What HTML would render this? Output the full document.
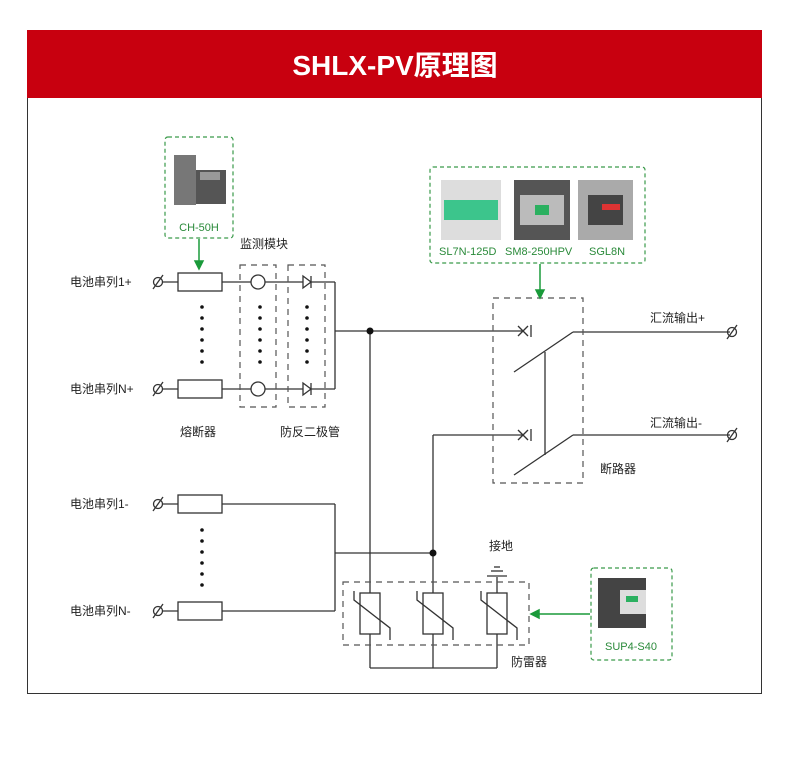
<!DOCTYPE html>
<html><head><meta charset="utf-8"><style>
body{margin:0;background:#fff;}
svg{display:block;font-family:"Liberation Sans","Noto Sans CJK SC",sans-serif;}
</style></head><body>
<svg width="790" height="768" viewBox="0 0 790 768">
<rect x="27.5" y="30.5" width="734" height="663" fill="#fff" stroke="#333" stroke-width="1"/>
<rect x="27" y="30" width="735" height="68" fill="#c8000f"/>
<text x="395" y="75" text-anchor="middle" fill="#fff" font-size="28" font-weight="bold">SHLX-PV原理图</text>

<g stroke="#333" stroke-width="1.3" fill="none">
<!-- row lines -->
<line x1="163" y1="282" x2="335" y2="282"/>
<line x1="163" y1="389" x2="335" y2="389"/>
<line x1="335" y1="282" x2="335" y2="389"/>
<line x1="335" y1="331" x2="523" y2="331"/>
<line x1="370" y1="331" x2="370" y2="593"/>
<rect x="178" y="273" width="44" height="18" fill="#fff"/>
<rect x="178" y="380" width="44" height="18" fill="#fff"/>
<circle cx="258" cy="282" r="7" fill="#fff"/>
<circle cx="258" cy="389" r="7" fill="#fff"/>
<path d="M303 276 L311 282 L303 288 Z" fill="#fff"/><line x1="311" y1="276" x2="311" y2="288"/>
<path d="M303 383 L311 389 L303 395 Z" fill="#fff"/><line x1="311" y1="383" x2="311" y2="395"/>
<!-- bottom rows -->
<line x1="163" y1="504" x2="335" y2="504"/>
<line x1="163" y1="611" x2="335" y2="611"/>
<line x1="335" y1="504" x2="335" y2="611"/>
<rect x="178" y="495" width="44" height="18" fill="#fff"/>
<rect x="178" y="602" width="44" height="18" fill="#fff"/>
<line x1="335" y1="553" x2="433" y2="553"/>
<line x1="433" y1="435" x2="433" y2="593"/>
<line x1="433" y1="435" x2="523" y2="435"/>
<!-- switch -->
<line x1="518" y1="326" x2="528" y2="336"/><line x1="528" y1="326" x2="518" y2="336"/><line x1="531" y1="325" x2="531" y2="337"/>
<line x1="518" y1="430" x2="528" y2="440"/><line x1="528" y1="430" x2="518" y2="440"/><line x1="531" y1="429" x2="531" y2="441"/>
<line x1="514" y1="372" x2="573" y2="332"/><line x1="573" y1="332" x2="730" y2="332"/>
<line x1="514" y1="475" x2="573" y2="435"/><line x1="573" y1="435" x2="730" y2="435"/>
<line x1="545" y1="352" x2="545" y2="455"/>
<!-- varistors -->
<line x1="370" y1="634" x2="370" y2="668"/><line x1="433" y1="634" x2="433" y2="668"/><line x1="497" y1="634" x2="497" y2="668"/>
<line x1="370" y1="668" x2="497" y2="668"/>
<line x1="497" y1="577" x2="497" y2="593"/>
<line x1="487" y1="576" x2="507" y2="576"/><line x1="491" y1="571" x2="503" y2="571"/><line x1="494" y1="567" x2="500" y2="567"/>
<g id="v"><rect x="360" y="593" width="20" height="41" fill="#fff"/><path d="M354 591 L354 600 L390 628 L390 640"/></g>
<use href="#v" x="63"/><use href="#v" x="127"/>
</g>
<g fill="#111">
<circle cx="370" cy="331" r="3.5"/><circle cx="433" cy="553" r="3.5"/>
</g>
<!-- terminals -->
<g stroke="#333" stroke-width="1.3" fill="none">
<circle cx="158" cy="282" r="4.5"/><line x1="153" y1="289" x2="163" y2="275"/>
<circle cx="158" cy="389" r="4.5"/><line x1="153" y1="396" x2="163" y2="382"/>
<circle cx="158" cy="504" r="4.5"/><line x1="153" y1="511" x2="163" y2="497"/>
<circle cx="158" cy="611" r="4.5"/><line x1="153" y1="618" x2="163" y2="604"/>
<circle cx="732" cy="332" r="4.5"/><line x1="727" y1="339" x2="737" y2="325"/>
<circle cx="732" cy="435" r="4.5"/><line x1="727" y1="442" x2="737" y2="428"/>
</g>
<!-- dots -->
<g fill="#111">
<circle cx="202" cy="307" r="1.8"/><circle cx="202" cy="318" r="1.8"/><circle cx="202" cy="329" r="1.8"/><circle cx="202" cy="340" r="1.8"/><circle cx="202" cy="351" r="1.8"/><circle cx="202" cy="362" r="1.8"/>
<circle cx="260" cy="307" r="1.8"/><circle cx="260" cy="318" r="1.8"/><circle cx="260" cy="329" r="1.8"/><circle cx="260" cy="340" r="1.8"/><circle cx="260" cy="351" r="1.8"/><circle cx="260" cy="362" r="1.8"/>
<circle cx="307" cy="307" r="1.8"/><circle cx="307" cy="318" r="1.8"/><circle cx="307" cy="329" r="1.8"/><circle cx="307" cy="340" r="1.8"/><circle cx="307" cy="351" r="1.8"/><circle cx="307" cy="362" r="1.8"/>
<circle cx="202" cy="530" r="1.8"/><circle cx="202" cy="541" r="1.8"/><circle cx="202" cy="552" r="1.8"/><circle cx="202" cy="563" r="1.8"/><circle cx="202" cy="574" r="1.8"/><circle cx="202" cy="585" r="1.8"/>
</g>
<!-- dashed boxes -->
<g stroke="#555" stroke-width="1.2" fill="none" stroke-dasharray="6,5">
<rect x="240" y="265" width="36" height="142"/>
<rect x="288" y="265" width="37" height="142"/>
<rect x="493" y="298" width="90" height="185"/>
<rect x="343" y="582" width="186" height="63"/>
</g>
<g stroke="#3a9a4a" stroke-width="1.2" fill="none" stroke-dasharray="4,3">
<rect x="165" y="137" width="68" height="101" rx="3"/>
<rect x="430" y="167" width="215" height="96" rx="3"/>
<rect x="591" y="568" width="81" height="92" rx="3"/>
</g>
<!-- green arrows -->
<g stroke="#1a9a3a" stroke-width="1.5" fill="#1a9a3a">
<line x1="199" y1="239" x2="199" y2="262"/><path d="M195 261 L203 261 L199 269 Z"/>
<line x1="540" y1="264" x2="540" y2="291"/><path d="M536 290 L544 290 L540 298 Z"/>
<line x1="590" y1="614" x2="538" y2="614"/><path d="M539 610 L539 618 L531 614 Z"/>
</g>
<!-- products -->
<g>
<rect x="174" y="155" width="22" height="50" fill="#777"/><rect x="196" y="170" width="30" height="34" fill="#555"/><rect x="200" y="172" width="20" height="8" fill="#999"/>
<rect x="441" y="180" width="60" height="60" fill="#ddd"/><rect x="444" y="200" width="54" height="20" fill="#3cc58c"/>
<rect x="514" y="180" width="56" height="60" fill="#555"/><rect x="520" y="195" width="44" height="30" fill="#bbb"/><rect x="535" y="205" width="14" height="10" fill="#2bb060"/>
<rect x="578" y="180" width="55" height="60" fill="#aaa"/><rect x="588" y="195" width="35" height="30" fill="#444"/><rect x="602" y="204" width="18" height="6" fill="#d33"/>
<rect x="598" y="578" width="48" height="50" fill="#444"/><rect x="620" y="590" width="26" height="24" fill="#ddd"/><rect x="626" y="596" width="12" height="6" fill="#2bb060"/>
</g>
<!-- labels -->
<g font-size="12" fill="#222">
<text x="70" y="286">电池串列1+</text>
<text x="70" y="393">电池串列N+</text>
<text x="70" y="508">电池串列1-</text>
<text x="70" y="615">电池串列N-</text>
<text x="240" y="248">监测模块</text>
<text x="180" y="436">熔断器</text>
<text x="280" y="436">防反二极管</text>
<text x="650" y="322">汇流输出+</text>
<text x="650" y="427">汇流输出-</text>
<text x="600" y="473">断路器</text>
<text x="489" y="550">接地</text>
<text x="511" y="666">防雷器</text>
</g>
<g font-size="11" fill="#2a8a3a">
<text x="199" y="231" text-anchor="middle">CH-50H</text>
<text x="439" y="255">SL7N-125D</text>
<text x="505" y="255">SM8-250HPV</text>
<text x="589" y="255">SGL8N</text>
<text x="631" y="650" text-anchor="middle">SUP4-S40</text>
</g>
</svg>
</body></html>
